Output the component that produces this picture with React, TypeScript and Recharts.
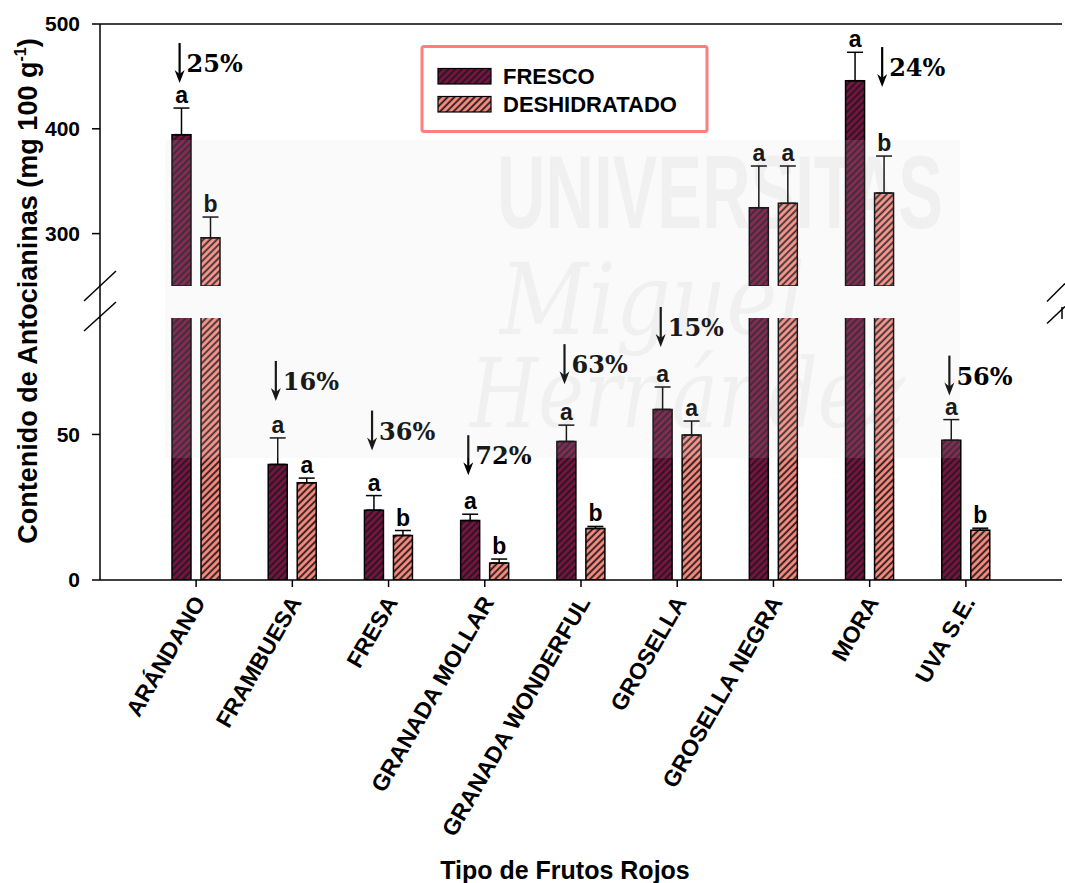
import React from "react";
import {
  BarChart,
  Bar,
  XAxis,
  YAxis,
  ErrorBar,
  ReferenceLine,
  ReferenceDot,
} from "recharts";

const FRUITS = [
  "ARÁNDANO",
  "FRAMBUESA",
  "FRESA",
  "GRANADA MOLLAR",
  "GRANADA WONDERFUL",
  "GROSELLA",
  "GROSELLA NEGRA",
  "MORA",
  "UVA S.E.",
];
const FRESCO = [394.4, 39.7, 24.0, 20.4, 47.6, 58.6, 324.7, 445.9, 48.0];
const FRESCO_SD = [25.4, 9.1, 5.0, 2.2, 5.6, 7.7, 39.8, 27.1, 7.1];
const DESH = [296.0, 33.4, 15.3, 5.8, 17.7, 49.8, 328.9, 338.7, 17.1];
const DESH_SD = [19.8, 1.6, 1.7, 1.4, 0.7, 4.8, 35.6, 35.3, 0.7];
const FRESCO_LETTER = ["a", "a", "a", "a", "a", "a", "a", "a", "a"];
const DESH_LETTER = ["b", "a", "b", "b", "b", "a", "a", "b", "b"];
const LOSS = ["25%", "16%", "36%", "72%", "63%", "15%", "", "24%", "56%"];

// where each loss arrow sits: over which bar, and how far (px) above its whisker
const ARROW_SIDE = ["f", "f", "f", "f", "f", "f", "", "d", "f"];
const ARROW_LIFT = [25, 37, 45, 39, 41, 40, 0, 69, 24];

const LOWER_DOMAIN = [0, 90];
const UPPER_DOMAIN = [250, 500];
const UPPER_TICKS = [300, 400, 500];
const LOWER_TICKS = [0, 50];

const SANS = "Arial, 'Liberation Sans', Helvetica, sans-serif";
const SERIF = "'DejaVu Serif', 'Liberation Serif', serif";
const FRESCO_COLOR = "#7c1144";
const DESH_COLOR = "#fb8a80";

const BAR = 19;
const GAP = 10;
const HALF = (BAR + GAP) / 2;

const rows = FRUITS.map((name, i) => ({
  name,
  fresco: FRESCO[i],
  desh: DESH[i],
  frescoErr: [0, FRESCO_SD[i]],
  deshErr: [0, DESH_SD[i]],
}));

// the top panel only shows bars that reach past the break
const upperRows = rows.map((r) => ({
  ...r,
  fresco: r.fresco >= UPPER_DOMAIN[0] ? r.fresco : null,
  desh: r.desh >= UPPER_DOMAIN[0] ? r.desh : null,
}));

const axisProps = { stroke: "#000", strokeWidth: 1.5 };
const tickFont = { fontSize: 21, fontWeight: 700, fontFamily: SANS, fill: "#000" };

function FruitTick(p: any) {
  const x = p.x + 3;
  const y = p.y + 9;
  return (
    <text
      x={x}
      y={y}
      dy="0.35em"
      transform={`rotate(-60, ${x}, ${y})`}
      textAnchor="end"
      fontSize={23}
      fontWeight={700}
      fontFamily={SANS}
      fill="#000"
    >
      {p.payload.value}
    </text>
  );
}

const letterShape = (text: string, dx: number) => (p: any) => (
  <text
    x={p.cx + dx}
    y={p.cy - 5}
    textAnchor="middle"
    fontSize={23}
    fontWeight={700}
    fontFamily={SANS}
    fill="#000"
  >
    {text}
  </text>
);

const arrowShape = (pct: string, dx: number, lift: number) => (p: any) => {
  const x = p.cx + dx - 2;
  const tip = p.cy - lift;
  return (
    <g>
      <line x1={x} y1={tip - 40} x2={x} y2={tip - 8} stroke="#000" strokeWidth={2.2} />
      <path
        d={`M${x - 5},${tip - 13} L${x},${tip} L${x + 5},${tip - 13} L${x},${tip - 9} Z`}
        fill="#000"
      />
      <text
        x={x + 7}
        y={tip - 11}
        fontSize={24}
        fontWeight={700}
        fontFamily={SERIF}
        fill="#000"
      >
        {pct}
      </text>
    </g>
  );
};

// letters and loss arrows, anchored at the top of each whisker
function annotations() {
  const out: React.ReactNode[] = [];
  FRUITS.forEach((name, i) => {
    out.push(
      <ReferenceDot
        key={`lf${i}`}
        x={name}
        y={FRESCO[i] + FRESCO_SD[i]}
        yAxisId="l"
        r={0}
        ifOverflow="discard"
        shape={letterShape(FRESCO_LETTER[i], -HALF)}
      />,
      <ReferenceDot
        key={`ld${i}`}
        x={name}
        y={DESH[i] + DESH_SD[i]}
        yAxisId="l"
        r={0}
        ifOverflow="discard"
        shape={letterShape(DESH_LETTER[i], HALF)}
      />
    );
    if (LOSS[i]) {
      const onF = ARROW_SIDE[i] === "f";
      out.push(
        <ReferenceDot
          key={`ar${i}`}
          x={name}
          y={onF ? FRESCO[i] + FRESCO_SD[i] : DESH[i] + DESH_SD[i]}
          yAxisId="l"
          r={0}
          ifOverflow="discard"
          shape={arrowShape(LOSS[i], onF ? -HALF : HALF, ARROW_LIFT[i])}
        />
      );
    }
  });
  return out;
}

function bars() {
  return [
    <Bar
      key="f"
      dataKey="fresco"
      name="FRESCO"
      yAxisId="l"
      fill="url(#hatchF)"
      stroke="#000"
      strokeWidth={1.5}
      barSize={BAR}
      isAnimationActive={false}
    >
      <ErrorBar dataKey="frescoErr" direction="y" width={8} stroke="#000" strokeWidth={1.5} />
    </Bar>,
    <Bar
      key="d"
      dataKey="desh"
      name="DESHIDRATADO"
      yAxisId="l"
      fill="url(#hatchD)"
      stroke="#000"
      strokeWidth={1.5}
      barSize={BAR}
      isAnimationActive={false}
    >
      <ErrorBar dataKey="deshErr" direction="y" width={8} stroke="#000" strokeWidth={1.5} />
    </Bar>,
  ];
}

export default function App() {
  return (
    <div
      style={{
        position: "absolute",
        left: 0,
        top: 0,
        width: 1065,
        height: 883,
        background: "#fff",
        fontFamily: SANS,
      }}
    >
      <svg width={0} height={0} style={{ position: "absolute" }}>
        <defs>
          <pattern
            id="hatchF"
            patternUnits="userSpaceOnUse"
            width={4.8}
            height={4.8}
            patternTransform="rotate(45)"
          >
            <rect width={4.8} height={4.8} fill={FRESCO_COLOR} />
            <line x1={1.2} y1={0} x2={1.2} y2={4.8} stroke="#1a1a1a" strokeWidth={1.8} />
          </pattern>
          <pattern
            id="hatchD"
            patternUnits="userSpaceOnUse"
            width={4.8}
            height={4.8}
            patternTransform="rotate(45)"
          >
            <rect width={4.8} height={4.8} fill={DESH_COLOR} />
            <line x1={1.2} y1={0} x2={1.2} y2={4.8} stroke="#1a1a1a" strokeWidth={1.8} />
          </pattern>
        </defs>
      </svg>

      {/* faint university watermark behind the plot */}
      <svg
        width={1065}
        height={883}
        style={{ position: "absolute", left: 0, top: 0, pointerEvents: "none" }}
      >
        <rect x={165} y={140} width={795} height={318} fill="#fafafa" />
        <g fill="#efefef">
          <text
            x={497}
            y={228}
            fontSize={104}
            fontWeight={700}
            fontFamily={SANS}
            textLength={446}
            lengthAdjust="spacingAndGlyphs"
          >
            UNIVERSITAS
          </text>
          <text x={500} y={334} fontSize={100} fontStyle="italic" fontFamily={SERIF} textLength={305} lengthAdjust="spacingAndGlyphs">
            Miguel
          </text>
          <text x={470} y={427} fontSize={96} fontStyle="italic" fontFamily={SERIF} textLength={435} lengthAdjust="spacingAndGlyphs">
            Hernández
          </text>
        </g>
      </svg>

      {/* lower section, 0–90 */}
      <div style={{ position: "absolute", left: 0, top: 0 }}>
        <BarChart
          width={1065}
          height={883}
          data={rows}
          barGap={GAP}
          margin={{ top: 318, right: 3, bottom: 0, left: 0 }}
        >
          <XAxis
            dataKey="name"
            interval={0}
            height={303}
            padding={{ left: 48, right: 48 }}
            axisLine={axisProps}
            tickLine={axisProps}
            tickSize={7}
            tick={<FruitTick />}
          />
          <YAxis
            yAxisId="l"
            domain={LOWER_DOMAIN}
            ticks={LOWER_TICKS}
            allowDataOverflow
            width={100}
            axisLine={axisProps}
            tickLine={axisProps}
            tickSize={8}
            tickMargin={12}
            tick={tickFont}
          />
          <YAxis
            yAxisId="r"
            orientation="right"
            domain={LOWER_DOMAIN}
            width={0}
            tick={false}
            tickLine={false}
            axisLine={axisProps}
          />
          {bars()}
          {annotations()}
        </BarChart>
      </div>

      {/* upper section, 250–500 */}
      <div style={{ position: "absolute", left: 0, top: 0 }}>
        <BarChart
          width={1065}
          height={300}
          data={upperRows}
          barGap={GAP}
          margin={{ top: 24, right: 3, bottom: 14, left: 0 }}
        >
          <XAxis dataKey="name" hide padding={{ left: 48, right: 48 }} />
          <YAxis
            yAxisId="l"
            domain={UPPER_DOMAIN}
            ticks={UPPER_TICKS}
            allowDataOverflow
            width={100}
            axisLine={axisProps}
            tickLine={axisProps}
            tickSize={8}
            tickMargin={12}
            tick={tickFont}
          />
          <YAxis
            yAxisId="r"
            orientation="right"
            domain={UPPER_DOMAIN}
            width={0}
            tick={false}
            tickLine={false}
            axisLine={axisProps}
          />
          <ReferenceLine yAxisId="l" y={500} stroke="#000" strokeWidth={1.5} />
          {bars()}
          {annotations()}
        </BarChart>
      </div>

      {/* titles, legend and axis break */}
      <svg
        width={1065}
        height={883}
        style={{ position: "absolute", left: 0, top: 0, pointerEvents: "none" }}
      >
        <rect x={165} y={140} width={795} height={318} fill="#ffffff" opacity={0.1} />
        <line x1={100} y1={285} x2={100} y2={319} stroke="#000" strokeWidth={1.5} />
        <line x1={84} y1={301} x2={116} y2={271} stroke="#000" strokeWidth={1.5} />
        <line x1={84} y1={331} x2={116} y2={302} stroke="#000" strokeWidth={1.5} />
        <line x1={1062} y1={307} x2={1062} y2={319} stroke="#000" strokeWidth={1.5} />
        <rect x={1056} y={283} width={9} height={24} fill="#fff" />
        <line x1={1047} y1={301.5} x2={1065} y2={283.5} stroke="#000" strokeWidth={1.5} />
        <line x1={1047} y1={323.5} x2={1065} y2={306.5} stroke="#000" strokeWidth={1.5} />

        <text
          transform="translate(36.5, 291) rotate(-90)"
          textAnchor="middle"
          fontSize={27}
          fontWeight={700}
          fontFamily={SANS}
          fill="#000"
        >
          Contenido de Antocianinas (mg 100 g
          <tspan fontSize={16} dy={-11}>-1</tspan>
          <tspan dy={11}>)</tspan>
        </text>
        <text
          x={565}
          y={879}
          textAnchor="middle"
          fontSize={25}
          fontWeight={700}
          fontFamily={SANS}
          fill="#000"
        >
          Tipo de Frutos Rojos
        </text>

        <rect x={422} y={46.5} width={285} height={85} fill="#fff" stroke="#ff7f7f" strokeWidth={3} rx={2} />
        <rect x={438} y={68.5} width={53} height={15.5} fill="url(#hatchF)" stroke="#000" strokeWidth={1.2} />
        <rect x={438} y={96.5} width={53} height={15.5} fill="url(#hatchD)" stroke="#000" strokeWidth={1.2} />
        <text x={503} y={84} fontSize={22} fontWeight={700} fontFamily={SANS} fill="#000">
          FRESCO
        </text>
        <text x={503} y={111.5} fontSize={22} fontWeight={700} fontFamily={SANS} fill="#000">
          DESHIDRATADO
        </text>
      </svg>
    </div>
  );
}
